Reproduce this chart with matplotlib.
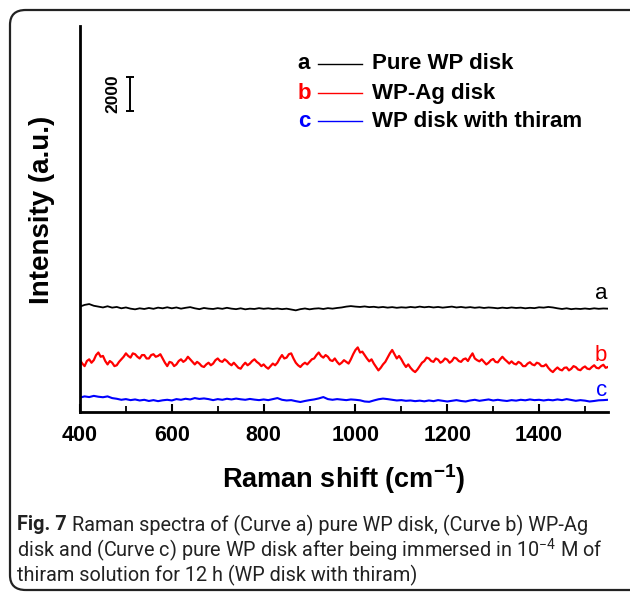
import numpy as np
import matplotlib
matplotlib.use("Agg")
import matplotlib.pyplot as plt
from matplotlib.patches import FancyBboxPatch
from matplotlib.lines import Line2D

plt.rcParams['font.family'] = ['Liberation Sans', 'DejaVu Sans']
plt.rcParams['mathtext.fontset'] = 'custom'
plt.rcParams['mathtext.rm'] = 'Roboto'
plt.rcParams['mathtext.bf'] = 'Liberation Sans:bold'

# ---------------- data ----------------
raman_shift = np.arange(400, 1551, 10)       # cm-1 grid for curves a and c
raman_shift_b = np.arange(400, 1551, 5)      # cm-1 grid for curve b

curve_a = [6200, 6300, 6350, 6250, 6200, 6150, 6220, 6140, 6180, 6100,
           6150, 6080, 6040, 6100, 6060, 6120, 6070, 6140, 6100, 6160,
           6100, 6150, 6080, 6130, 6170, 6100, 6050, 6120, 6080, 6060,
           6110, 6070, 6130, 6080, 6050, 6100, 6040, 6080, 6060, 6110,
           6070, 6100, 6060, 6090, 6050, 6080, 6030, 5980, 6050, 6090,
           6040, 6080, 6100, 6060, 6110, 6080, 6120, 6150, 6200, 6230,
           6200, 6180, 6210, 6170, 6190, 6150, 6180, 6140, 6170, 6130,
           6160, 6140, 6180, 6150, 6200, 6160, 6190, 6150, 6180, 6140,
           6170, 6200, 6150, 6180, 6140, 6170, 6130, 6160, 6120, 6150,
           6130, 6100, 6140, 6110, 6150, 6120, 6140, 6100, 6130, 6110,
           6160, 6140, 6180, 6150, 6100, 6060, 6100, 6050, 6080, 6060,
           6090, 6060, 6100, 6070, 6090, 6080]

curve_b = [3050, 2850, 2700, 3000, 3100, 2900, 3050, 3350, 3500, 3250,
           3300, 3000, 2800, 3000, 2900, 2700, 2750, 2950, 3100, 3250,
           3450, 3300, 3200, 3450, 3400, 3250, 3150, 3350, 3350, 3150,
           3150, 3350, 3400, 3250, 3300, 3400, 3150, 2900, 2700, 2950,
           2900, 2700, 2800, 3000, 3100, 2950, 3050, 3250, 3100, 2950,
           2800, 2950, 2850, 2700, 2650, 2800, 2900, 2750, 2850, 3050,
           3150, 3000, 2950, 3100, 3000, 2850, 2750, 2900, 2750, 2600,
           2550, 2750, 2900, 2750, 2850, 3000, 3100, 2950, 2850, 2700,
           2800, 2650, 2550, 2700, 2850, 2750, 2900, 3150, 3350, 3150,
           3200, 3400, 3450, 3150, 2900, 2750, 2650, 2800, 2900, 2800,
           2950, 3100, 3150, 3350, 3500, 3300, 3200, 3350, 3250, 3050,
           3000, 3150, 2950, 2800, 2900, 3050, 2950, 2850, 3100, 3400,
           3650, 3800, 3500, 3550, 3350, 3150, 2980, 3100, 2850, 2650,
           2450, 2600, 2800, 2950, 3200, 3450, 3650, 3400, 3150, 3300,
           3100, 2850, 2650, 2800, 2600, 2450, 2350, 2500, 2700, 2900,
           3000, 3200, 3150, 3000, 2950, 3150, 3080, 2900, 2980, 3150,
           3080, 2900, 3000, 3200, 3150, 3000, 2950, 3100, 3150, 3000,
           3250, 3450, 3150, 3050, 2980, 3100, 2950, 2800, 2900, 3050,
           3120, 2950, 2920, 3100, 3250, 3100, 2980, 2850, 2980, 2850,
           2800, 2950, 2870, 2700, 2700, 2850, 2930, 2800, 2750, 2900,
           2850, 2700, 2700, 2800, 2600, 2450, 2350, 2500, 2620, 2500,
           2450, 2600, 2620, 2450, 2540, 2700, 2640, 2500, 2460, 2600,
           2680, 2550, 2520, 2650, 2750, 2600, 2570, 2700, 2780, 2600,
           2650]

curve_c = [850, 920, 880, 950, 900, 870, 920, 820, 780, 720,
           760, 700, 740, 680, 720, 650, 700, 640, 690, 720,
           680, 760, 720, 780, 740, 820, 770, 800, 760, 700,
           760, 720, 780, 740, 790, 750, 720, 770, 730, 700,
           740, 700, 760, 820, 720, 680, 700, 640, 590, 650,
           700, 740, 800, 880, 760, 720, 760, 730, 700, 740,
           720, 690, 620, 600, 680, 750, 790, 760, 720, 680,
           700, 660, 680, 640, 670, 630, 680, 640, 700, 660,
           620, 660, 700, 650, 620, 680, 720, 660, 700, 740,
           680, 720, 680, 650, 700, 670, 720, 690, 740, 700,
           720, 680, 720, 690, 740, 700, 760, 710, 660, 700,
           670, 620, 650, 690, 700, 720]

curve_letters = ['a', 'b', 'c']
curve_names = ['Pure WP disk', 'WP-Ag disk', 'WP disk with thiram']
curve_colors = ['black', 'red', 'blue']
scale_bar_value = 2000
x_ticks = [400, 600, 800, 1000, 1200, 1400]

# ---------------- figure ----------------
fig = plt.figure(figsize=(6.30, 5.92), dpi=100)
ax = fig.add_axes([0.127, 0.304, 0.838, 0.652])

ax.plot(raman_shift, curve_a, color=curve_colors[0], lw=1.3)
ax.plot(raman_shift_b, curve_b, color=curve_colors[1], lw=1.6)
ax.plot(raman_shift, curve_c, color=curve_colors[2], lw=1.5)

ax.set_xlim(400, 1550)
ax.set_ylim(0, 22700)

for s in ['top', 'right']:
    ax.spines[s].set_visible(False)
for s in ['left', 'bottom']:
    ax.spines[s].set_linewidth(2.0)

ax.set_xticks(x_ticks)
ax.set_xticks(np.arange(500, 1550, 200), minor=True)
ax.set_yticks([])
ax.tick_params(axis='x', which='major', direction='in', length=6, width=1.5,
               labelsize=15.5, pad=9)
ax.tick_params(axis='x', which='minor', direction='in', length=4, width=1.3)
for lab in ax.get_xticklabels():
    lab.set_fontweight('bold')

ax.set_xlabel(r'Raman shift (cm$^{\mathbf{-1}}$)', fontsize=19.5,
              fontweight='bold', labelpad=12)
ax.set_ylabel('Intensity (a.u.)', fontsize=20, fontweight='bold')
ax.yaxis.set_label_coords(-0.048, 0.523)

# curve labels at the right end
label_y = [curve_a[-1] + 920, curve_b[-1] + 700, curve_c[-1] + 520]
for letter, col, yv in zip(curve_letters, curve_colors, label_y):
    ax.text(1548, yv, letter, color=col, fontsize=16, ha='right', va='center')

# scale bar
bar_x = 509
bar_center = 18700
ax.errorbar([bar_x], [bar_center], yerr=scale_bar_value / 2, fmt='none',
            ecolor='black', elinewidth=1.4, capsize=3, capthick=1.4)
ax.text(472, bar_center, str(scale_bar_value), rotation=90, fontsize=12.5,
        fontweight='bold', ha='center', va='center')

# legend (drawn manually: letter, line sample, name)
leg_y = [0.902, 0.826, 0.754]
for letter, name, col, yy in zip(curve_letters, curve_names, curve_colors, leg_y):
    ax.text(0.424, yy, letter, color=col, fontsize=16, fontweight='bold',
            ha='center', va='center', transform=ax.transAxes)
    ax.add_line(Line2D([0.451, 0.534], [yy, yy], color=col, lw=1.0,
                       transform=ax.transAxes))
    ax.text(0.553, yy, name, color='black', fontsize=16, fontweight='bold',
            ha='left', va='center', transform=ax.transAxes)

# border around figure
border = FancyBboxPatch((10 / 630, 2 / 592), 1.2, 580 / 592,
                        boxstyle='round,pad=0,rounding_size=0.025',
                        transform=fig.transFigure, fill=False,
                        edgecolor='#222222', lw=1.6, clip_on=False)
fig.patches.append(border)

# caption
cap_font = dict(family='Roboto', fontsize=14.3, color='#222222')
fig.canvas.draw()
renderer = fig.canvas.get_renderer()
x0 = 17 / 630
y1 = 1 - 525 / 592
t_bold = fig.text(x0, y1, 'Fig. 7', fontweight='bold', va='center', **cap_font)
bb = t_bold.get_window_extent(renderer=renderer)
x_after = (bb.x1 + 5) / fig.bbox.width
fig.text(x_after, y1, 'Raman spectra of (Curve a) pure WP disk, (Curve b) WP-Ag',
         va='center', **cap_font)
fig.text(x0, 1 - 550 / 592,
         r'disk and (Curve c) pure WP disk after being immersed in 10$^{-4}$ M of',
         va='center', **cap_font)
fig.text(x0, 1 - 575 / 592, 'thiram solution for 12 h (WP disk with thiram)',
         va='center', **cap_font)

fig.savefig('out.png', dpi=100)
